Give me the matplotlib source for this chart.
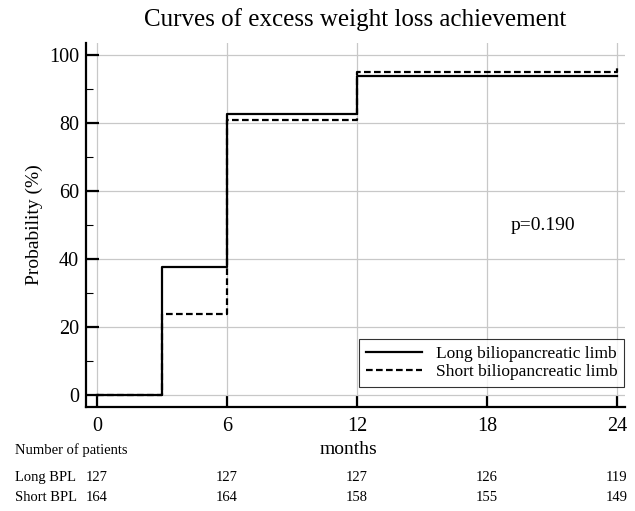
import matplotlib.pyplot as plt
import matplotlib.transforms as mtransforms
from matplotlib.ticker import MultipleLocator

plt.rcParams['font.family'] = ['Liberation Serif', 'DejaVu Serif']

# step times (months) and cumulative probability (%)
months = [0, 3, 6, 12, 24]
long_bpl = [0, 37.8, 82.5, 93.8, 93.8]
short_bpl = [0, 23.8, 80.9, 95.0, 96.8]

# number at risk table
risk_times = [0, 6, 12, 18, 24]
risk_long = [127, 127, 127, 126, 119]
risk_short = [164, 164, 158, 155, 149]
row_names = ['Long BPL', 'Short BPL']

fig = plt.figure(figsize=(6.35, 5.11), dpi=100)
ax = fig.add_axes([86/635, 1 - 407/511, (625-86)/635, (407-43)/511])

ax.step(months, long_bpl, where='post', color='black', lw=1.6,
        label='Long biliopancreatic limb')
ax.step(months, short_bpl, where='post', color='black', lw=1.6,
        ls=(0, (3, 1.5)), label='Short biliopancreatic limb')

ax.set_xlim(-0.51, 24.37)
ax.set_ylim(-3.5, 103.5)
ax.set_xticks(risk_times)
ax.yaxis.set_major_locator(MultipleLocator(20))
ax.yaxis.set_minor_locator(MultipleLocator(10))
ax.grid(True, which='major', color='#c8c8c8', lw=0.9)
ax.set_axisbelow(True)
for s in ['top', 'right']:
    ax.spines[s].set_visible(False)
for s in ['left', 'bottom']:
    ax.spines[s].set_linewidth(1.6)
ax.tick_params(axis='both', which='major', direction='in', length=9, width=1.6,
               labelsize=14.5, colors='black')
ax.tick_params(axis='y', which='minor', direction='in', length=5, width=0.8)
ax.tick_params(axis='x', pad=7)
ax.tick_params(axis='y', pad=5)

ax.set_ylabel('Probability (%)', fontsize=14, labelpad=4)
ax.set_title('Curves of excess weight loss achievement', fontsize=18, pad=12)
ax.text(20.6, 50, 'p=0.190', fontsize=14, ha='center', va='center')

leg = ax.legend(loc='lower right', bbox_to_anchor=(1.008, 0.04), fontsize=12.5,
                frameon=True, fancybox=False, edgecolor='black', handlelength=3.2,
                borderpad=0.4, labelspacing=0.1, borderaxespad=0.3)
leg.get_frame().set_linewidth(0.8)

# table below the axes
trans = mtransforms.blended_transform_factory(ax.transData, fig.transFigure)
fig.text(15/635, 1 - 450/511, 'Number of patients', fontsize=10.5, va='center')
fig.text(349/635, 1 - 450/511, 'months', fontsize=14, ha='center', va='center')
for row, (name, vals) in enumerate(zip(row_names, [risk_long, risk_short])):
    yy = 1 - (477 + 20*row)/511
    fig.text(15/635, yy, name, fontsize=10.5, va='center')
    for t, v in zip(risk_times, vals):
        ax.text(t, yy, str(v), transform=trans, fontsize=10.5,
                ha='center', va='center')

fig.savefig('out.png', dpi=100)
